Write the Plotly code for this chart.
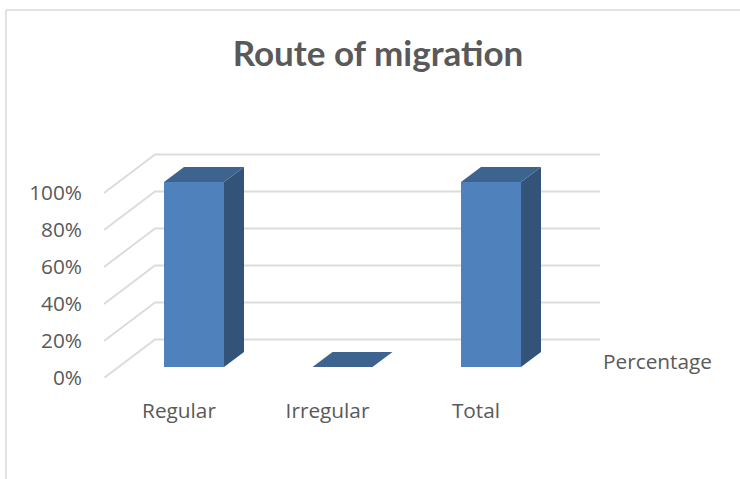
import plotly.graph_objects as go

categories = ["Regular", "Irregular", "Total"]
values = [100, 0, 100]
tick_percent = [0, 20, 40, 60, 80, 100]
series_name = "Percentage"
title_text = "Route of migration"

W, H = 740, 479
PX_X = 148.5          # pixels per category step
PX_Y = 1.85           # pixels per percent
X_L, X_R, Y_B, Y_T = 104, 600, 378, 150
ZERO_X, ZERO_Y = 194, 367

x_range = [(X_L - ZERO_X) / PX_X, (X_R - ZERO_X) / PX_X]
y_range = [(ZERO_Y - Y_B) / PX_Y, (ZERO_Y - Y_T) / PX_Y]
positions = list(range(len(categories)))

bar_w = 60 / PX_X
dep_x, dep_y = 20 / PX_X, 15 / PX_Y          # bar depth
wall_back_x = (155 - ZERO_X) / PX_X
wall_front_x = x_range[0]
wall_back_dy = 27.6 / PX_Y
wall_front_dy = -11 / PX_Y

FRONT, SIDE, TOP = "#4f81bd", "#335379", "#3d638f"
GRID, TEXT = "#dcdcdc", "#595959"
FONT = "Open Sans"
TICK_SIZE = 20.8

fig = go.Figure()

fig.add_bar(x=positions, y=values, width=bar_w, marker=dict(color=FRONT, line=dict(width=0)),
            hoverinfo="skip", showlegend=False)

for p, v in zip(positions, values):
    l, r = p - bar_w / 2, p + bar_w / 2
    if v > 0:
        fig.add_scatter(x=[r, r + dep_x, r + dep_x, r, r], y=[0, dep_y, v + dep_y, v, 0],
                        mode="lines", fill="toself", fillcolor=SIDE, line=dict(width=0),
                        hoverinfo="skip", showlegend=False)
    fig.add_scatter(x=[l, r, r + dep_x, l + dep_x, l], y=[v, v, v + dep_y, v + dep_y, v],
                    mode="lines", fill="toself", fillcolor=TOP, line=dict(width=0),
                    hoverinfo="skip", showlegend=False)

shapes = []
for v in tick_percent:
    y_back = v + wall_back_dy
    y_front = v + wall_front_dy
    shapes.append(dict(type="path", xref="x", yref="y", layer="below",
                       path=f"M {wall_front_x} {y_front} L {wall_back_x} {y_back} L {x_range[1]} {y_back}",
                       line=dict(color=GRID, width=2)))
# outer chart frame (top and left edges)
shapes.append(dict(type="line", xref="paper", yref="paper", x0=6 / W, x1=1, y0=1 - 10 / H, y1=1 - 10 / H,
                   line=dict(color="#d9d9d9", width=1.5)))
shapes.append(dict(type="line", xref="paper", yref="paper", x0=6 / W, x1=6 / W, y0=0, y1=1 - 10 / H,
                   line=dict(color="#d9d9d9", width=1.5)))

fig.update_layout(
    width=W, height=H, margin=dict(l=0, r=0, t=0, b=0),
    paper_bgcolor="white", plot_bgcolor="rgba(0,0,0,0)",
    font=dict(family=FONT, color=TEXT, size=TICK_SIZE),
    showlegend=False, shapes=shapes,
    title=dict(text=f"<b>{title_text}</b>", x=378 / W, xanchor="center", xref="paper",
               y=1 - 54 / H, yanchor="middle", font=dict(family="Lato", size=35, color=TEXT)),
    xaxis=dict(domain=[X_L / W, X_R / W], range=x_range, tickmode="array", tickvals=positions,
               ticktext=categories, showgrid=False, zeroline=False, showline=False, ticks="", automargin=False,
               ticklabelshift=-15, ticklabelstandoff=18, tickfont=dict(size=TICK_SIZE, color=TEXT)),
    yaxis=dict(domain=[1 - Y_B / H, 1 - Y_T / H], range=y_range, tickmode="array", tickvals=tick_percent,
               ticktext=[f"{t}%" for t in tick_percent], showgrid=False, zeroline=False, showline=False, automargin=False,
               ticks="", ticklabelshift=11, ticklabelstandoff=21, tickfont=dict(size=TICK_SIZE, color=TEXT)),
    annotations=[dict(text=series_name, xref="paper", yref="paper", x=603 / W, y=1 - 361 / H,
                      xanchor="left", yanchor="middle", showarrow=False, xshift=-2,
                      font=dict(size=TICK_SIZE, color=TEXT))],
)

fig.write_html("out.html", config=dict(displayModeBar=False),
               post_script="document.body.style.margin='0';")
